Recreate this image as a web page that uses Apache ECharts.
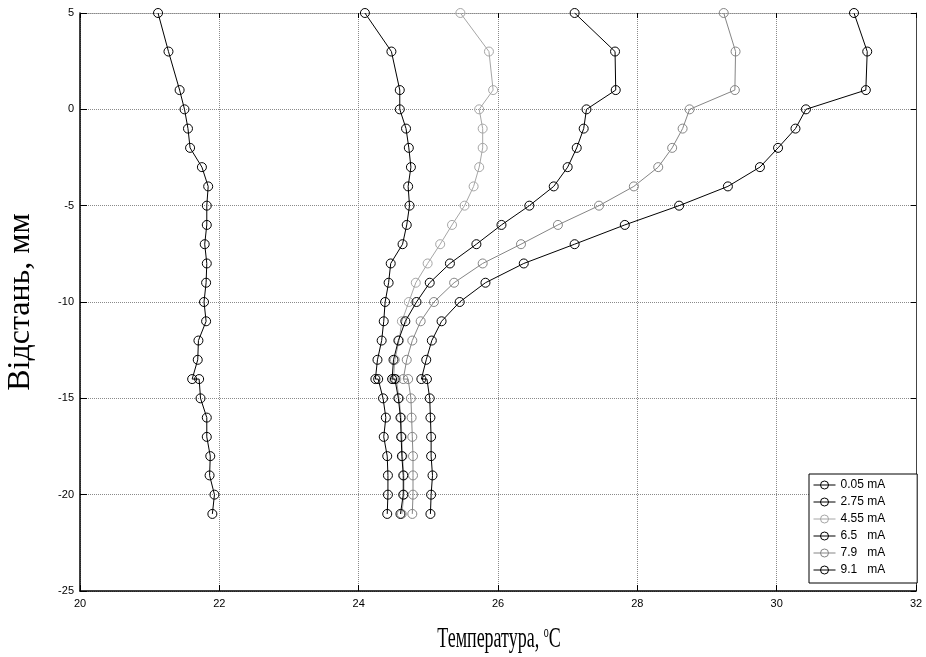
<!DOCTYPE html>
<html>
<head>
<meta charset="utf-8">
<script src="https://cdn.jsdelivr.net/npm/echarts@6/dist/echarts.min.js"></script>
<style>html,body{margin:0;padding:0;background:#fff;}#c{width:926px;height:657px;}</style>
</head>
<body>
<div id="c"></div>
<script>
// Depth positions (mm); -14 measured twice
var depths = [5,3,1,0,-1,-2,-3,-4,-5,-6,-7,-8,-9,-10,-11,-12,-13,-14,-14,-15,-16,-17,-18,-19,-20,-21];
var seriesNames = ['0.05 mA','2.75 mA','4.55 mA','6.5   mA','7.9   mA','9.1   mA'];
var t005 = [21.12,21.27,21.43,21.50,21.55,21.58,21.75,21.84,21.82,21.82,21.79,21.82,21.81,21.78,21.81,21.70,21.69,21.61,21.71,21.73,21.82,21.82,21.87,21.86,21.93,21.90];
var t275 = [24.09,24.47,24.59,24.59,24.68,24.72,24.75,24.71,24.73,24.69,24.63,24.46,24.43,24.38,24.36,24.33,24.27,24.24,24.28,24.35,24.39,24.36,24.41,24.42,24.42,24.41];
var t455 = [25.46,25.87,25.93,25.73,25.78,25.78,25.73,25.65,25.52,25.34,25.17,24.99,24.82,24.72,24.62,24.58,24.52,24.50,24.54,24.58,24.61,24.62,24.63,24.65,24.65,24.62];
var t65  = [27.10,27.68,27.69,27.27,27.23,27.13,27.00,26.80,26.45,26.05,25.69,25.31,25.02,24.83,24.67,24.57,24.50,24.48,24.52,24.57,24.60,24.61,24.62,24.64,24.64,24.60];
var t79  = [29.24,29.41,29.40,28.75,28.65,28.50,28.30,27.95,27.45,26.86,26.33,25.78,25.37,25.08,24.89,24.77,24.69,24.64,24.71,24.75,24.76,24.77,24.78,24.78,24.78,24.77];
var t91  = [31.11,31.30,31.28,30.42,30.27,30.02,29.76,29.30,28.60,27.82,27.10,26.37,25.82,25.45,25.19,25.05,24.97,24.90,24.98,25.02,25.03,25.04,25.04,25.06,25.04,25.03];
var xTicks = [20,22,24,26,28,30,32];
var yTicks = [-25,-20,-15,-10,-5,0,5];
var xTitle = 'Температура, ';
var yTitle = 'Відстань, мм';

var allT = [t005,t275,t455,t65,t79,t91];
var colors = ['#000000','#000000','#a6a6a6','#000000','#858585','#000000'];

var series = allT.map(function(arr, i){
  return {
    name: seriesNames[i],
    type: 'line',
    data: arr.map(function(v, k){ return [v, depths[k]]; }),
    symbol: 'circle',
    symbolSize: 9,
    showSymbol: true,
    lineStyle: {color: colors[i], width: 1},
    itemStyle: {color: 'rgba(255,255,255,0)', borderColor: colors[i], borderWidth: 1},
    emphasis: {disabled: true},
    animation: false,
    z: 2 + i
  };
});

var chart = echarts.init(document.getElementById('c'), null, {renderer: 'canvas'});
var gridLine = {show: true, lineStyle: {color: '#8a8a8a', type: [1, 1], width: 1}};
chart.setOption({
  backgroundColor: '#ffffff',
  animation: false,
  grid: {left: 80, right: 10, top: 13, bottom: 66, containLabel: false, outerBoundsMode: 'none'},
  legend: {
    show: true,
    orient: 'vertical',
    left: 809,
    top: 474,
    padding: [5, 32, 7, 4],
    itemGap: 5,
    itemWidth: 22,
    itemHeight: 10,
    backgroundColor: '#ffffff',
    borderColor: '#000000',
    borderWidth: 1,
    lineStyle: {width: 1},
    itemStyle: {borderWidth: 1},
    textStyle: {fontFamily: 'Liberation Sans, Arial', fontSize: 12, color: '#000', lineHeight: 12},
    data: seriesNames
  },
  graphic: [{
    type: 'text',
    x: 499, y: 654,
    scaleX: 0.62,
    style: {
      text: xTitle + '{sup|o}C',
      font: '29px "Liberation Serif", "Times New Roman", serif',
      fill: '#000',
      align: 'center',
      verticalAlign: 'bottom',
      rich: {sup: {font: '16px "Liberation Serif", serif', fill: '#000', verticalAlign: 'top', padding: [0, 0, 12, 0]}}
    },
    z: 100
  }],
  xAxis: [{
    type: 'value', min: 20, max: 32, interval: 2,
    position: 'bottom',
    axisLine: {show: true, onZero: false, lineStyle: {color: '#000', width: 1.5}},
    axisTick: {show: true, inside: true, length: 6, lineStyle: {color: '#000'}},
    axisLabel: {fontFamily: 'Liberation Sans, Arial', fontSize: 11, color: '#000', margin: 7,
      formatter: function(v){ return xTicks.indexOf(v) >= 0 ? String(v) : ''; }},
    splitLine: gridLine
  }, {
    type: 'value', min: 20, max: 32, interval: 2,
    position: 'top',
    axisLine: {show: true, onZero: false, lineStyle: {color: '#8a8a8a', width: 1, type: [1,1]}},
    axisTick: {show: true, inside: true, length: 5, lineStyle: {color: '#000'}},
    axisLabel: {show: false},
    splitLine: {show: false}
  }],
  yAxis: [{
    type: 'value', min: -25, max: 5, interval: 5,
    position: 'left',
    name: yTitle,
    nameLocation: 'middle',
    nameGap: 43,
    nameRotate: 90,
    nameTextStyle: {fontFamily: 'Liberation Serif, Times New Roman', fontSize: 32, color: '#000'},
    axisLine: {show: true, onZero: false, lineStyle: {color: '#000', width: 1.5}},
    axisTick: {show: true, inside: true, length: 7, lineStyle: {color: '#000'}},
    axisLabel: {fontFamily: 'Liberation Sans, Arial', fontSize: 11, color: '#000', margin: 6,
      formatter: function(v){ return yTicks.indexOf(v) >= 0 ? String(v) : ''; }},
    splitLine: gridLine
  }, {
    type: 'value', min: -25, max: 5, interval: 5,
    position: 'right',
    axisLine: {show: true, onZero: false, lineStyle: {color: '#444', width: 1}},
    axisTick: {show: true, inside: true, length: 5, lineStyle: {color: '#000'}},
    axisLabel: {show: false},
    splitLine: {show: false}
  }],
  series: series
});
</script>
</body>
</html>
